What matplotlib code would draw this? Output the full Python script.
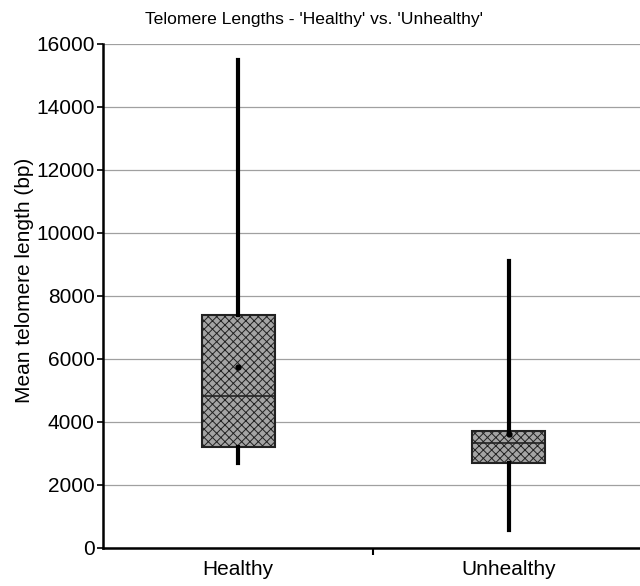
import matplotlib
matplotlib.use("Agg")
import matplotlib.pyplot as plt

plt.rcParams['font.family'] = ['Liberation Sans', 'DejaVu Sans']
plt.rcParams['hatch.color'] = '#858585'
plt.rcParams['hatch.linewidth'] = 0.7

# box plot summary values
groups = ["Healthy", "Unhealthy"]
whisker_low = [2700, 570]
q1 = [3200, 2700]
median = [4820, 3330]
q3 = [7400, 3720]
whisker_high = [15500, 9100]
mean = [5750, 3620]
yticks = [0, 2000, 4000, 6000, 8000, 10000, 12000, 14000, 16000]

stats = []
for i, g in enumerate(groups):
    stats.append(dict(label=g, whislo=whisker_low[i], q1=q1[i], med=median[i],
                      q3=q3[i], whishi=whisker_high[i], mean=mean[i], fliers=[]))

fig = plt.figure(figsize=(6.4, 5.86), dpi=100)
ax = fig.add_axes([0.161, 0.065, 0.845, 0.86])

ax.bxp(stats, positions=[0.5, 1.5], widths=0.27, patch_artist=True,
       showmeans=True, showcaps=False,
       boxprops=dict(facecolor='#a4a4a4', edgecolor='#222222', linewidth=1.5, hatch='xxxx'),
       medianprops=dict(color='#222222', linewidth=1.2),
       whiskerprops=dict(color='black', linewidth=3),
       meanprops=dict(marker='o', markerfacecolor='black', markeredgecolor='black', markersize=3.5))

ax.set_xlim(0, 2)
ax.set_ylim(0, 16000)
ax.set_yticks(yticks)
ax.set_xticks([1])
ax.set_xticklabels([''])
ax.set_xticks([0.5, 1.5], minor=True)
ax.set_xticklabels(groups, minor=True, fontsize=15)
ax.tick_params(axis='x', which='minor', length=0, pad=9)
ax.tick_params(axis='x', which='major', length=5, width=1.5, direction='out')
ax.tick_params(axis='y', labelsize=15, length=4, width=1.2, direction='out', pad=2)

ax.yaxis.grid(True, color='#a0a0a0', linewidth=0.9)
ax.set_axisbelow(True)
for side in ['top', 'right']:
    ax.spines[side].set_visible(False)
ax.spines['left'].set_linewidth(1.8)
ax.spines['bottom'].set_linewidth(1.8)

ax.set_ylabel("Mean telomere length (bp)", fontsize=15)
ax.yaxis.set_label_coords(-0.128, 0.53)
fig.text(0.49, 0.966, "Telomere Lengths - 'Healthy' vs. 'Unhealthy'", ha='center', va='center', fontsize=12.6)

fig.savefig("out.png", dpi=100)
